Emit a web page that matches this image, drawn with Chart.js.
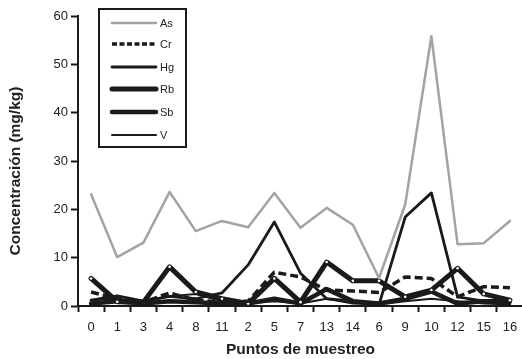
<!DOCTYPE html>
<html><head><meta charset="utf-8">
<script src="https://cdn.jsdelivr.net/npm/chart.js@4/dist/chart.umd.min.js"></script>
<style>html,body{margin:0;padding:0;overflow:hidden;background:#fff}#wrap{width:527px;height:359px}</style>
</head><body><div id="wrap"><canvas id="c" width="527" height="359"></canvas></div>
<script>
const categories = ['0','1','3','4','8','11','2','5','7','13','14','6','9','10','12','15','16'];
const asVals = [23.1, 10.1, 13.1, 23.6, 15.5, 17.6, 16.3, 23.4, 16.2, 20.3, 16.8, 5.8, 21.0, 55.8, 12.8, 13.0, 17.6];
const crVals = [2.9, 1.5, 0.8, 2.7, 1.2, 0.8, 1.0, 7.0, 6.0, 3.3, 3.1, 2.8, 6.0, 5.7, 1.9, 4.0, 3.8];
const hgVals = [1.2, 2.1, 1.0, 2.0, 1.5, 2.7, 8.5, 17.4, 6.8, 1.5, 1.0, 0.3, 18.4, 23.4, 1.9, 1.0, 0.5];
const rbVals = [5.7, 0.9, 0.8, 8.1, 2.9, 1.5, 0.5, 5.7, 0.8, 9.1, 5.2, 5.2, 1.9, 3.3, 7.8, 2.5, 1.2];
const sbVals = [0.5, 1.0, 0.5, 1.0, 0.8, 0.5, 0.5, 1.5, 0.5, 3.5, 1.0, 0.5, 1.5, 3.0, 0.5, 1.0, 1.0];
const vVals  = [1.2, 1.5, 0.8, 2.0, 2.5, 1.0, 0.5, 1.0, 0.5, 1.5, 0.5, 0.3, 1.0, 1.5, 1.0, 0.5, 0.3];
const yTicks = [0, 10, 20, 30, 40, 50, 60];
const yTitle = 'Concentración (mg/kg)';
const xTitle = 'Puntos de muestreo';

const FONT = "'Liberation Sans', Arial, sans-serif";
const BLK = '#1a1a1a';
function ds(label, data, color, width, dash, pts) {
  return {label, data, borderColor: color, borderWidth: width, borderDash: dash || [],
    borderCapStyle: dash ? 'butt' : 'round', borderJoinStyle: 'round',
    pointRadius: pts ? 1.3 : 0, pointBackgroundColor: '#fff', pointBorderWidth: 0,
    tension: 0, fill: false};
}
const legendPlugin = {
  id: 'boxLegend',
  afterDraw(chart) {
    const ctx = chart.ctx;
    ctx.save();
    ctx.strokeStyle = BLK; ctx.lineWidth = 2;
    ctx.strokeRect(99, 9, 87, 138);
    const ys = [23, 44, 67, 89, 112, 135];
    chart.data.datasets.forEach((d, i) => {
      ctx.beginPath();
      ctx.strokeStyle = d.borderColor; ctx.lineWidth = d.borderWidth;
      ctx.setLineDash(d.borderDash.length ? [5, 2.5] : []);
      ctx.lineCap = d.borderDash.length ? 'butt' : 'round';
      ctx.moveTo(112, ys[i]); ctx.lineTo(156, ys[i]); ctx.stroke();
      ctx.setLineDash([]);
      ctx.fillStyle = '#222'; ctx.font = '11px ' + FONT;
      ctx.textBaseline = 'middle'; ctx.textAlign = 'left';
      ctx.fillText(d.label, 160, ys[i] + 1);
    });
    ctx.translate(16, 171);
    ctx.rotate(-Math.PI / 2);
    ctx.fillStyle = '#222';
    ctx.font = 'bold 15.5px ' + FONT;
    ctx.textAlign = 'center'; ctx.textBaseline = 'middle';
    ctx.fillText(yTitle, 0, 0);
    ctx.restore();
  }
};
new Chart(document.getElementById('c'), {
  type: 'line',
  data: { labels: categories, datasets: [
    ds('As', asVals, '#a3a3a3', 2.5),
    ds('Cr', crVals, BLK, 3.5, [8, 4]),
    ds('Hg', hgVals, BLK, 2.8),
    ds('Rb', rbVals, BLK, 5, null, true),
    ds('Sb', sbVals, BLK, 4.5),
    ds('V', vVals, BLK, 2)
  ]},
  options: {
    responsive: false, animation: false,
    layout: { padding: { top: 16, right: 0, left: 0, bottom: 0 } },
    plugins: { legend: { display: false }, tooltip: { enabled: false } },
    scales: {
      x: {
        offset: true,
        grid: { offset: true, drawOnChartArea: false, drawTicks: true, tickLength: 6, color: BLK, tickWidth: 2 },
        border: { display: true, color: BLK, width: 2 },
        ticks: { color: '#222', font: { family: FONT, size: 13 }, padding: 8, maxRotation: 0, autoSkip: false },
        title: { display: true, text: xTitle, color: '#222', font: { family: FONT, size: 15.5, weight: 'bold' }, padding: { top: 0, bottom: 0 } },
        afterFit(s) { s.height = 53; }
      },
      y: {
        min: 0, max: 60,
        afterBuildTicks(s) { s.ticks = yTicks.map(v => ({ value: v })); },
        grid: { drawOnChartArea: false, drawTicks: true, tickLength: 7, color: BLK, tickWidth: 2 },
        border: { display: true, color: BLK, width: 2 },
        ticks: { color: '#222', font: { family: FONT, size: 13 }, padding: 3 },
        title: { display: false },
        afterFit(s) { s.width = 78; }
      }
    }
  },
  plugins: [legendPlugin]
});
</script></body></html>
